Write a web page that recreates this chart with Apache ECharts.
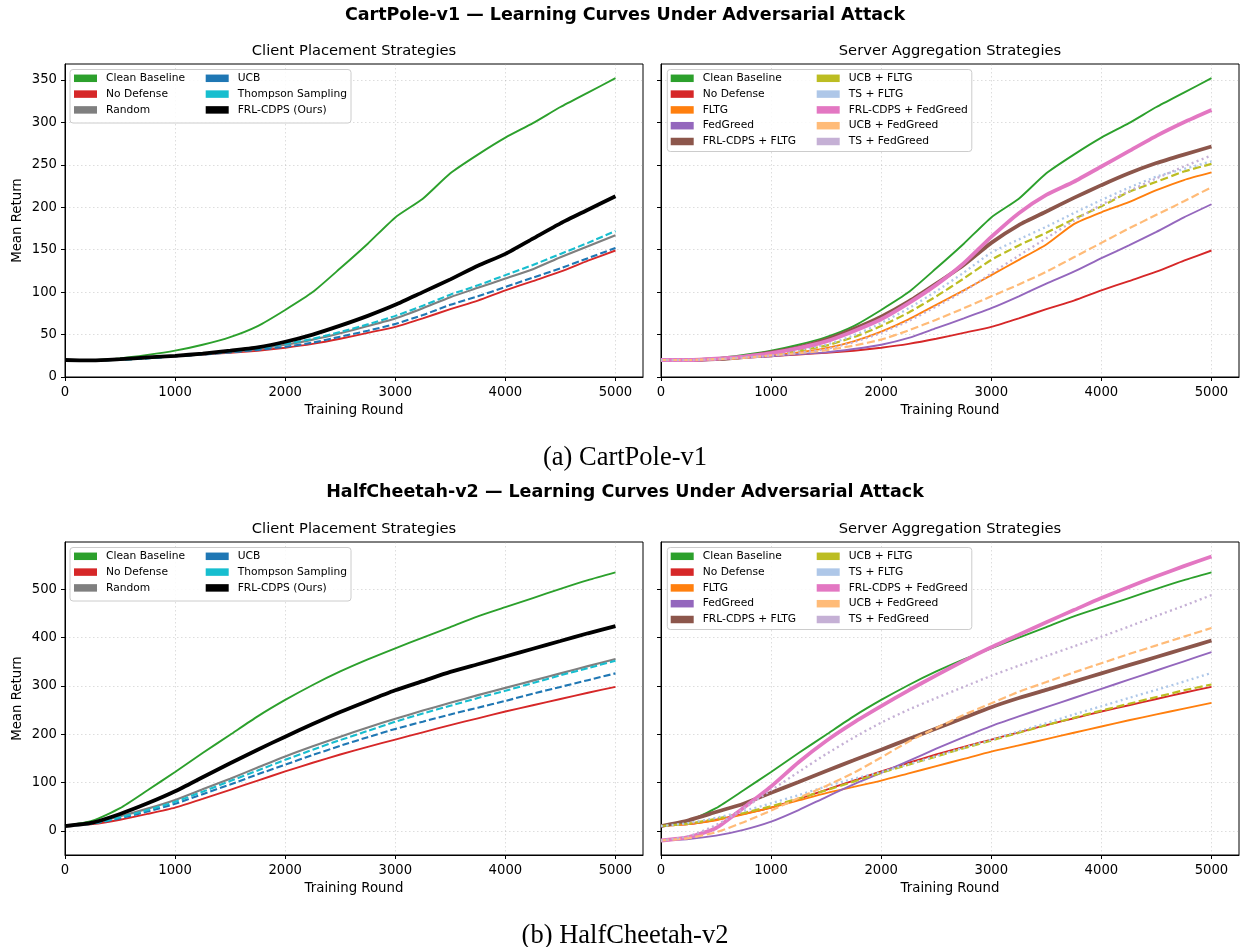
<!DOCTYPE html>
<html><head><meta charset="utf-8">
<script src="https://cdn.jsdelivr.net/npm/echarts@6/dist/echarts.min.js"></script>
<style>html,body{margin:0;padding:0;background:#fff}#c{width:1242px;height:947px}</style>
</head><body><div id="c"></div>
<script>
// ---------- data ----------
const rounds = [0,250,500,750,1000,1250,1500,1750,2000,2250,2500,2750,3000,3250,3500,3750,4000,4250,4500,4750,5000];

// CartPole-v1
const cpClean    = [20,20,22,26,31,38,47,60,79,100,128,157,188,210,240,262,282,299,318,335,352];
const cpNoDef    = [20,19.5,20.5,22.5,24.5,26.5,28.5,31,34.5,39,45,52,59,69,80,90,102,113,124,137,149];
const cpRandom   = [20,19.5,20.5,22,24.5,26.5,29.5,33,38,44,51.5,60,69,81,94,105,116,127,141,154,167];
const cpUCB      = [20,19.5,20.5,22,24.5,26.5,29,32,35.5,40.5,47.5,54.5,62.5,73,85,95,106,117,128,140,152];
const cpTS       = [20,19.5,20.5,22,24.5,27,30,33.5,39,45,53,62,72,84,97,108,120,132,145,158,172];
const cpFRL      = [20,19.5,21,23,25,27.5,31,35,41.5,50,60.5,72,85,100,115,131,145,163,181,197,213];
const cpFLTG     = [20,20,21,23,25.5,29,34,42,53.5,68,85,102,120,138,156,180,194,206,220,232,241];
const cpFedGreed = [20,20,21,22.5,24.5,27,29,33,38,46,57.5,69,81,95,110,124,140,155,171,188,203.5];
const cpFrlFltg  = [20,20,21,23.5,29,35,44,56.5,71,89,110,132,158,179,195,211,226,240,252,262,271.5];
const cpUcbFltg  = [20,20,21,23,26,31,37,47,60,76,95,116,138,155,170,186,201,218,230,242,251];
const cpTsFltg   = [20,20,21,23.5,27,32,38,49,63.5,81,101,123,146.5,162,177,193,208.5,223,236,245,254];
const cpFrlFg    = [20,20,21.5,24,28,34,42,54,68,87,108.5,134,165,193,214.5,230,248,266,284,300,314.5];
const cpUcbFg    = [20,20,21,22.5,25.5,28,31.5,37,44,55,67.5,81,95,109,124,141,158,175,191,207,223.5];
const cpTsFg     = [20,20,21,23,25,28.5,33,41,52,66,83,101,122,143,163.5,184,203,219,234,248,261];

// HalfCheetah-v2
const hcClean    = [10,21,47,84,122,161,199,237,271,302,330,355,378,400,422,444,463,482,501,519,535];
const hcNoDef    = [10,14,23,35,48,66,85,104,123,141,158,174,189,204,219,233,247,260,273,286,298];
const hcRandom   = [10,16,30,46,64,86,108,131,154,175,195,214,232,249,265,281,296,311,326,341,356];
const hcUCB      = [10,15,26,40,56,76,96,117,137,157,176,194,211,226,241,255,269,284,298,312,326];
const hcTS       = [10,15,28,43,60,81,103,125,147,168,188,207,226,243,259,275,290,306,322,337,352];
const hcFRL      = [10,17,35,57,82,111,140,168,195,221,246,269,291,310,329,345,361,377,393,409,424];
const hcFLTG     = [10,14,22,34,48,63,78,91,104,119,134,149,164,177,190,203,216,229,241,253,265];
const hcFedGreed = [-20,-17,-10,2,19,43,70,96,120,145,170,194,217,237,256,275,294,313,332,351,370];
const hcFrlFltg  = [10,22,39,56,79,101,124,146,168,190,212,234,256,275,292,309,326,343,360,377,394];
const hcUcbFltg  = [10,15,25,37,51,67,84,102,120,137,154,171,187,203,219,234,249,263,277,291,303];
const hcTsFltg   = [10,16,27,41,57,74,92,108,122,138,155,172,189,206,223,241,258,275,292,309,327];
const hcFrlFg    = [-20,-13,6,48,92,142,186,224,258,291,322,352,380,406,432,457,482,505,527,548,568];
const hcUcbFg    = [-20,-15,-3,18,42,68,93,120,152,185,213,240,264,288,308,328,347,366,384,402,420];
const hcTsFg     = [-20,-11,12,46,84,122,159,193,224,251,275,298,321,342,362,382,402,423,445,466,488];

// ticks
const xTicks  = [0,1000,2000,3000,4000,5000];
const cpTicks = [0,50,100,150,200,250,300,350];
const hcTicks = [0,100,200,300,400,500];

const clientNames = ['Clean Baseline','No Defense','Random','UCB','Thompson Sampling','FRL-CDPS (Ours)'];
const serverNames = ['Clean Baseline','No Defense','FLTG','FedGreed','FRL-CDPS + FLTG','UCB + FLTG','TS + FLTG','FRL-CDPS + FedGreed','UCB + FedGreed','TS + FedGreed'];

const cpClient = [cpClean,cpNoDef,cpRandom,cpUCB,cpTS,cpFRL];
const cpServer = [cpClean,cpNoDef,cpFLTG,cpFedGreed,cpFrlFltg,cpUcbFltg,cpTsFltg,cpFrlFg,cpUcbFg,cpTsFg];
const hcClient = [hcClean,hcNoDef,hcRandom,hcUCB,hcTS,hcFRL];
const hcServer = [hcClean,hcNoDef,hcFLTG,hcFedGreed,hcFrlFltg,hcUcbFltg,hcTsFltg,hcFrlFg,hcUcbFg,hcTsFg];

// ---------- styles ----------
const FONT = 'DejaVu Sans';
const STY = {
  'Clean Baseline':      {color:'#2ca02c', width:1.9},
  'No Defense':          {color:'#d62728', width:1.9},
  'Random':              {color:'#7f7f7f', width:2.1},
  'UCB':                 {color:'#1f77b4', width:2.1, type:[7,3]},
  'Thompson Sampling':   {color:'#17becf', width:2.1, type:[7,3]},
  'FRL-CDPS (Ours)':     {color:'#000000', width:3.8},
  'FLTG':                {color:'#ff7f0e', width:1.9},
  'FedGreed':            {color:'#9467bd', width:1.9},
  'FRL-CDPS + FLTG':     {color:'#8c564b', width:3.8},
  'UCB + FLTG':          {color:'#bcbd22', width:2.2, type:[8,3.5]},
  'TS + FLTG':           {color:'#aec7e8', width:2.3, type:[2,3.3]},
  'FRL-CDPS + FedGreed': {color:'#e377c2', width:3.8},
  'UCB + FedGreed':      {color:'#ffbb78', width:2.2, type:[8,3.5]},
  'TS + FedGreed':       {color:'#c5b0d5', width:2.3, type:[2,3.3]}
};

function mk(name, vals, gi) {
  const s = STY[name];
  return {
    name, type:'line', xAxisIndex:gi, yAxisIndex:gi,
    data: rounds.map((r,i)=>[r, vals[i]]),
    showSymbol:false, symbol:'none', smooth:0.2, silent:true,
    lineStyle:{color:s.color, width:s.width, type:s.type||'solid', cap:'butt'},
    itemStyle:{color:s.color}, emphasis:{disabled:true}, z:2
  };
}

const series = [];
clientNames.forEach((n,i)=>series.push(mk(n, cpClient[i], 0)));
serverNames.forEach((n,i)=>series.push(mk(n, cpServer[i], 1)));
clientNames.forEach((n,i)=>series.push(mk(n, hcClient[i], 2)));
serverNames.forEach((n,i)=>series.push(mk(n, hcServer[i], 3)));

// ---------- layout ----------
const grids = [
  {left:65,  top:64,  width:578, height:313},
  {left:661, top:64,  width:578, height:313},
  {left:65,  top:542, width:578, height:313},
  {left:661, top:542, width:578, height:313}
].map(g=>Object.assign(g,{show:true, borderColor:'#000', borderWidth:1, backgroundColor:'transparent'}));

const gridLine = {show:true, lineStyle:{color:'rgba(160,160,160,0.45)', width:0.8, type:[1.5,2.5]}};
const TICK_FS = 13.2;

function xAx(gi) {
  return {
    type:'value', gridIndex:gi, min:0, max:5250,
    name:'Training Round', nameLocation:'middle', nameGap:27,
    nameTextStyle:{fontSize:13.3, fontFamily:FONT, color:'#000'},
    axisLine:{show:true, onZero:false, lineStyle:{color:'#000', width:1}},
    axisTick:{show:true, length:4, customValues:xTicks, lineStyle:{color:'#000', width:1}},
    axisLabel:{show:true, customValues:xTicks, margin:9.5, fontSize:TICK_FS, fontFamily:FONT, color:'#000',
      formatter: v => String(Math.round(v))},
    splitLine:gridLine
  };
}
function yAx(gi, min, max, ticks, showLabels) {
  return {
    type:'value', gridIndex:gi, min, max,
    name: showLabels ? 'Mean Return' : '', nameLocation:'middle', nameGap:41,
    nameTextStyle:{fontSize:13.3, fontFamily:FONT, color:'#000'},
    axisLine:{show:true, onZero:false, lineStyle:{color:'#000', width:1}},
    axisTick:{show:true, length:4, customValues:ticks, lineStyle:{color:'#000', width:1}},
    axisLabel:{show:showLabels, customValues:ticks, margin:8, fontSize:TICK_FS, fontFamily:FONT, color:'#000',
      formatter: v => String(Math.round(v))},
    splitLine:gridLine
  };
}

function legendCol(names, left, top) {
  return {
    show:true, orient:'vertical', left, top, padding:0, itemGap:3.8,
    itemWidth:23, itemHeight:7.5, icon:'rect', selectedMode:false, data:names,
    itemStyle:{borderWidth:0},
    textStyle:{fontSize:10.7, fontFamily:FONT, color:'#000', lineHeight:12, padding:[0,0,0,4]}
  };
}
const legends = [
  legendCol(clientNames.slice(0,3), 74, 72.3),
  legendCol(clientNames.slice(3), 205.7, 72.3),
  legendCol(serverNames.slice(0,5), 670.7, 72.3),
  legendCol(serverNames.slice(5), 816.7, 72.3),
  legendCol(clientNames.slice(0,3), 74, 550.3),
  legendCol(clientNames.slice(3), 205.7, 550.3),
  legendCol(serverNames.slice(0,5), 670.7, 550.3),
  legendCol(serverNames.slice(5), 816.7, 550.3)
];

function frame(x,y,w,h){
  return {type:'rect', z:3, silent:true, shape:{x,y,width:w,height:h,r:3},
    style:{fill:'rgba(255,255,255,0.85)', stroke:'#cccccc', lineWidth:1}};
}

function ttl(text, cx, top, size, bold, family, lh) {
  return {text, left:cx, top, textAlign:'center', padding:0,
    textStyle:{fontSize:size, fontWeight: bold?'bold':'normal', fontFamily:family||FONT, color:'#000', lineHeight:lh}};
}

const option = {
  animation:false,
  backgroundColor:'#fff',
  title:[
    ttl('CartPole-v1 — Learning Curves Under Adversarial Attack', 625, 5, 17.5, true, null, 20),
    ttl('Client Placement Strategies', 354, 42.5, 14.7, false, null, 17),
    ttl('Server Aggregation Strategies', 950, 42.5, 14.7, false, null, 17),
    ttl('(a) CartPole-v1', 625, 443, 26.5, false, 'Liberation Serif', 30),
    ttl('HalfCheetah-v2 — Learning Curves Under Adversarial Attack', 625, 482, 17.5, true, null, 20),
    ttl('Client Placement Strategies', 354, 520.5, 14.7, false, null, 17),
    ttl('Server Aggregation Strategies', 950, 520.5, 14.7, false, null, 17),
    ttl('(b) HalfCheetah-v2', 625, 921, 26.5, false, 'Liberation Serif', 30)
  ],
  grid: grids,
  xAxis: [xAx(0), xAx(1), xAx(2), xAx(3)],
  yAxis: [yAx(0,0,368.7,cpTicks,true), yAx(1,0,368.7,cpTicks,false),
          yAx(2,-50,598,hcTicks,true), yAx(3,-50,598,hcTicks,false)],
  legend: legends,
  graphic: [
    frame(70,69.5,281,53.5), frame(667.3,69.5,304.5,82),
    frame(70,547.5,281,53.5), frame(667.3,547.5,304.5,82)
  ],
  series
};

const chart = echarts.init(document.getElementById('c'), null, {renderer:'canvas'});
chart.setOption(option);
</script>
</body></html>
